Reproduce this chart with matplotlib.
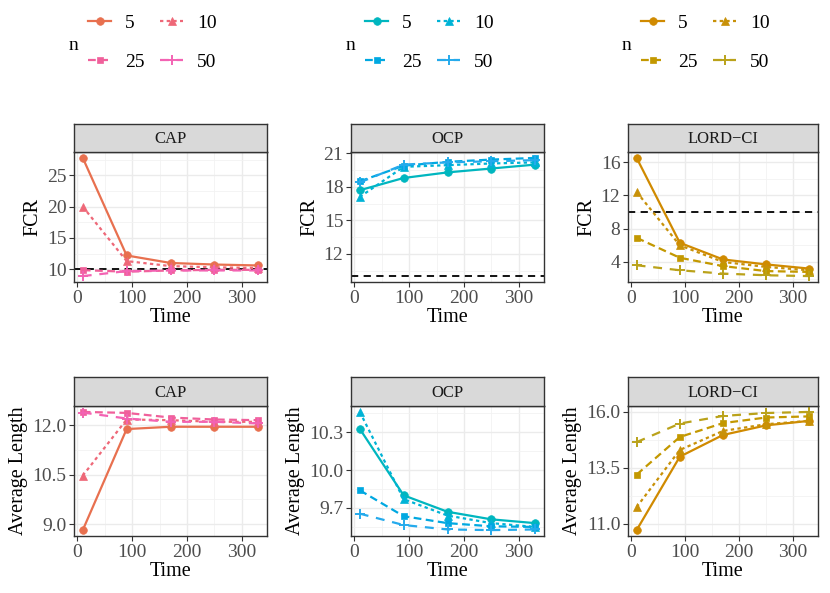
import matplotlib
matplotlib.use('Agg')
import matplotlib.pyplot as plt
from matplotlib.lines import Line2D
import numpy as np

plt.rcParams['font.family'] = ['Liberation Serif', 'DejaVu Serif']

# data
time = [10, 90, 170, 250, 330]
n_levels = ['5', '10', '25', '50']
methods = ['CAP', 'OCP', 'LORD\u2212CI']
alpha_line = 10  # target FCR (dashed black line)

# FCR, rows in order of n_levels
cap_fcr = [[27.8, 12.2, 11.0, 10.75, 10.6],
           [20.0, 11.3, 10.5, 10.3, 10.2],
           [9.85, 9.6, 9.8, 9.9, 9.9],
           [8.9, 9.7, 9.8, 9.8, 9.8]]
ocp_fcr = [[17.7, 18.8, 19.3, 19.65, 20.0],
           [17.1, 19.8, 19.95, 20.1, 20.2],
           [18.5, 19.9, 20.25, 20.45, 20.6],
           [18.4, 20.0, 20.2, 20.3, 20.4]]
lord_fcr = [[16.5, 6.3, 4.3, 3.7, 3.2],
            [12.4, 6.0, 4.0, 3.4, 3.0],
            [6.9, 4.5, 3.5, 2.9, 2.8],
            [3.6, 3.0, 2.6, 2.4, 2.3]]

# Average length
cap_len = [[8.82, 11.88, 11.95, 11.95, 11.95],
           [10.47, 12.17, 12.15, 12.1, 12.1],
           [12.4, 12.37, 12.23, 12.17, 12.15],
           [12.38, 12.2, 12.1, 12.1, 12.05]]
ocp_len = [[10.326, 9.80, 9.67, 9.61, 9.58],
           [10.46, 9.77, 9.64, 9.58, 9.55],
           [9.84, 9.635, 9.58, 9.555, 9.55],
           [9.655, 9.565, 9.53, 9.525, 9.53]]
lord_len = [[10.72, 14.0, 14.97, 15.4, 15.6],
            [11.75, 14.3, 15.15, 15.45, 15.6],
            [13.2, 14.88, 15.5, 15.75, 15.8],
            [14.65, 15.48, 15.82, 15.95, 16.0]]

cap_colors = ['#E8704F', '#EE6878', '#F0609B', '#F363B3']
ocp_colors = ['#00B6BF', '#00B3D6', '#00A8E1', '#25AAEC']
lord_colors = ['#D08A00', '#C89108', '#C39800', '#BAA21A']

markers = ['o', '^', 's', '+']
msizes = [5.5, 6, 5, 7]
dashes = [None, (1.5, 1.5), (3.5, 2), (4, 3.5)]

fcr_ticks = [[10, 15, 20, 25], [12, 15, 18, 21], [4, 8, 12, 16]]
len_ticks = [[9.0, 10.5, 12.0], [9.7, 10.0, 10.3], [11.0, 13.5, 16.0]]

W, H = 830, 593
fig = plt.figure(figsize=(W / 100, H / 100), dpi=100)


def box(x0, y0, x1, y1):
    return [x0 / W, 1 - y1 / H, (x1 - x0) / W, (y1 - y0) / H]


cols_x = [(74, 267), (351, 544), (628, 818)]
rows_y = [(124, 152, 282), (377, 406, 536)]

fcr_all = [cap_fcr, ocp_fcr, lord_fcr]
len_all = [cap_len, ocp_len, lord_len]
colors_all = [cap_colors, ocp_colors, lord_colors]


def line_kw(i, color):
    return dict(color=color, lw=1.6, marker=markers[i], markersize=msizes[i],
                markeredgewidth=1.4 if markers[i] == '+' else 0.5)


def draw_panel(x0, x1, ys, vals, colors, yticks, ylabel, title, hline=None):
    st, top, bot = ys
    ax = fig.add_axes(box(x0, top, x1, bot))
    sax = fig.add_axes(box(x0, st, x1, top))
    sax.set_facecolor('#D9D9D9')
    sax.set_xticks([])
    sax.set_yticks([])
    for s in sax.spines.values():
        s.set_color('#333333')
        s.set_linewidth(1.0)
    sax.text(0.5, 0.45, title, ha='center', va='center', fontsize=12,
             color='#1A1A1A', transform=sax.transAxes)

    for i, n in enumerate(n_levels):
        ln, = ax.plot(time, vals[i], label=n, zorder=3, **line_kw(i, colors[i]))
        if dashes[i] is not None:
            ln.set_dashes(dashes[i])
    allv = np.array(vals).ravel()
    lo, hi = allv.min(), allv.max()
    if hline is not None:
        ax.axhline(hline, color='black', lw=1.3, dashes=(4, 3), zorder=2)
        lo, hi = min(lo, hline), max(hi, hline)
    pad = (hi - lo) * 0.05
    ax.set_xlim(-6, 346)
    ax.set_xticks([0, 100, 200, 300])
    ax.set_xticks([50, 150, 250], minor=True)
    ax.set_yticks(yticks)
    step = yticks[1] - yticks[0]
    ax.set_yticks([t + step / 2 for t in yticks[:-1]]
                  + [yticks[0] - step / 2, yticks[-1] + step / 2], minor=True)
    if isinstance(yticks[0], float):
        ax.set_yticklabels(['%.1f' % t for t in yticks])
    ax.set_ylim(lo - pad, hi + pad)
    ax.grid(which='major', color='#EBEBEB', lw=1.0)
    ax.grid(which='minor', color='#F2F2F2', lw=0.6)
    ax.set_axisbelow(True)
    ax.tick_params(which='major', direction='out', length=3.5, width=0.8,
                   color='#333333', labelsize=14, labelcolor='#4D4D4D', pad=2)
    ax.tick_params(which='minor', length=0)
    for s in ax.spines.values():
        s.set_color('#333333')
        s.set_linewidth(1.0)
    ax.set_xlabel('Time', fontsize=14.5, labelpad=1)
    ax.set_ylabel(ylabel, fontsize=14.5, labelpad=3)
    return ax


for j in range(3):
    x0, x1 = cols_x[j]
    draw_panel(x0, x1, rows_y[0], fcr_all[j], colors_all[j],
               fcr_ticks[j], 'FCR', methods[j], hline=alpha_line)
    draw_panel(x0, x1, rows_y[1], len_all[j], colors_all[j],
               len_ticks[j], 'Average Length', methods[j])

    # legend on top of each column
    keys = []
    for i, n in enumerate(n_levels):
        k = Line2D([], [], **line_kw(i, colors_all[j][i]))
        if dashes[i] is not None:
            k.set_dashes(dashes[i])
        keys.append(k)
    order = [0, 2, 1, 3]
    leg_x = [88, 365, 641][j]
    fig.legend([keys[i] for i in order], [n_levels[i] for i in order],
               ncol=2, loc='center left', frameon=False,
               bbox_to_anchor=(leg_x / W, 1 - 43 / H),
               fontsize=14, handlelength=1.2, handletextpad=0.7,
               columnspacing=0.8, labelspacing=1.1, borderpad=0,
               borderaxespad=0)
    fig.text((leg_x - 19) / W, 1 - 45 / H, 'n', fontsize=14,
             ha='left', va='center')

fig.savefig('out.png', dpi=100)
